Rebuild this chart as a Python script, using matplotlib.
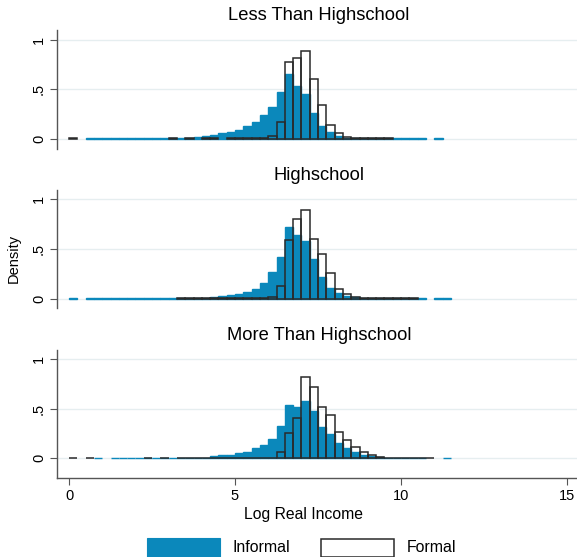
import numpy as np
import matplotlib
matplotlib.use("Agg")
import matplotlib.pyplot as plt
from matplotlib.patches import Rectangle

plt.rcParams['font.family'] = ['Liberation Sans', 'DejaVu Sans']

# ---- data (density per 0.25-wide bin of log real income, bins start at 0.0) ----
bin_width = 0.25
bin_left = [0.25 * i for i in range(46)]

panel_titles = ["Less Than Highschool", "Highschool", "More Than Highschool"]

informal_lths = [0, 0, 0.006, 0.006, 0.006, 0.006, 0.006, 0.006, 0.006, 0.006,
                 0.006, 0.006, 0.007, 0.008, 0.011, 0.018, 0.028, 0.045, 0.058, 0.075,
                 0.09, 0.13, 0.17, 0.24, 0.32, 0.47, 0.65, 0.53, 0.45, 0.26,
                 0.13, 0.07, 0.03, 0.013, 0.008, 0.006, 0.006, 0.006, 0.006, 0.006,
                 0.006, 0.006, 0.006, 0, 0.006, 0]
formal_lths = [0.006, 0, 0, 0, 0, 0, 0, 0, 0, 0,
               0, 0, 0.006, 0, 0.006, 0, 0.006, 0.006, 0, 0.006,
               0.006, 0.006, 0.007, 0.010, 0.03, 0.17, 0.77, 0.81, 0.89, 0.60,
               0.34, 0.14, 0.06, 0.02, 0.01, 0.006, 0.006, 0.006, 0.006, 0,
               0, 0, 0, 0, 0, 0]

informal_hs = [0.006, 0, 0.006, 0.006, 0.006, 0.006, 0.006, 0.006, 0.006, 0.006,
               0.006, 0.006, 0.006, 0.006, 0.006, 0.007, 0.010, 0.02, 0.028, 0.038,
               0.05, 0.07, 0.10, 0.16, 0.27, 0.42, 0.72, 0.64, 0.58, 0.40,
               0.22, 0.11, 0.06, 0.03, 0.013, 0.008, 0.006, 0.006, 0.006, 0.006,
               0.006, 0.006, 0.006, 0, 0.006, 0.006]
formal_hs = [0, 0, 0, 0, 0, 0, 0, 0, 0, 0,
             0, 0, 0, 0.006, 0.006, 0.006, 0.006, 0.006, 0.006, 0.006,
             0.006, 0.007, 0.008, 0.010, 0.015, 0.13, 0.59, 0.80, 0.89, 0.60,
             0.45, 0.26, 0.10, 0.05, 0.015, 0.008, 0.006, 0.006, 0.006, 0.006,
             0.006, 0.006, 0, 0, 0, 0]

informal_mths = [0, 0, 0, 0.006, 0, 0.006, 0.006, 0.006, 0.006, 0.006,
                 0.006, 0.006, 0.006, 0.006, 0.006, 0.006, 0.008, 0.02, 0.03, 0.03,
                 0.05, 0.06, 0.10, 0.13, 0.19, 0.32, 0.54, 0.52, 0.58, 0.48,
                 0.31, 0.24, 0.15, 0.10, 0.065, 0.035, 0.02, 0.01, 0.007, 0.006,
                 0.006, 0.006, 0.006, 0, 0, 0.006]
formal_mths = [0.006, 0, 0.006, 0, 0, 0, 0, 0, 0, 0.006,
               0, 0.006, 0, 0.006, 0.006, 0.006, 0.006, 0.006, 0.006, 0.006,
               0.006, 0.006, 0.006, 0.006, 0.008, 0.06, 0.25, 0.41, 0.82, 0.72,
               0.52, 0.44, 0.26, 0.18, 0.11, 0.06, 0.03, 0.01, 0.007, 0.006,
               0.006, 0.006, 0.006, 0.006, 0, 0]

informal_series = [informal_lths, informal_hs, informal_mths]
formal_series = [formal_lths, formal_hs, formal_mths]

x_ticks = [0, 5, 10, 15]
y_ticks = [0, 0.5, 1]
y_ticklabels = ["0", ".5", "1"]
legend_labels = ["Informal", "Formal"]
x_label = "Log Real Income"
y_label = "Density"

# ---- styling ----
BLUE = "#0b88bb"
EDGE = "#2a2a2a"
AXC = "#555555"
GRID = "#e6eef0"

W, H = 577, 557
fig = plt.figure(figsize=(W / 100, H / 100), dpi=100)
fig.patch.set_facecolor("white")

def fx(px):
    return px / W

def fy(py):
    return 1 - py / H

left_px, right_px = 57, 577
px_per_x = 33.2
x0_px = 69
px_per_y = 99.4
panels = [  # top, bottom, zero-line pixel rows
    (30, 149, 139.0),
    (190, 308, 298.7),
    (350, 478, 458.3),
]
title_y = [16, 176, 335]

xlim = ((left_px - x0_px) / px_per_x, (right_px - x0_px) / px_per_x)
left_arr = np.array(bin_left)

for k, (top, bot, zero) in enumerate(panels):
    ax = fig.add_axes([fx(left_px), fy(bot), fx(right_px - left_px), (bot - top) / H])
    ax.set_xlim(*xlim)
    ax.set_ylim((zero - bot) / px_per_y, (zero - top) / px_per_y)
    for g in y_ticks:
        ax.axhline(g, color=GRID, lw=1.0, zorder=0)
    inf = np.array(informal_series[k], dtype=float)
    frm = np.array(formal_series[k], dtype=float)
    m1 = inf > 0
    ax.bar(left_arr[m1], inf[m1], width=bin_width, align="edge",
           color=BLUE, edgecolor=BLUE, linewidth=1.0, zorder=2)
    m2 = frm > 0
    ax.bar(left_arr[m2], frm[m2], width=bin_width, align="edge",
           fill=False, edgecolor=EDGE, linewidth=1.1, zorder=3)
    for s in ["top", "right"]:
        ax.spines[s].set_visible(False)
    ax.spines["left"].set_color(AXC)
    ax.spines["left"].set_linewidth(1.0)
    ax.set_yticks(y_ticks)
    ax.set_yticklabels(y_ticklabels, rotation=90, va="center", fontsize=10.5)
    ax.tick_params(axis="y", direction="out", length=5, color=AXC, pad=3)
    if k < 2:
        ax.spines["bottom"].set_visible(False)
        ax.set_xticks([])
    else:
        ax.spines["bottom"].set_color(AXC)
        ax.spines["bottom"].set_linewidth(1.0)
        ax.set_xticks(x_ticks)
        ax.set_xticklabels([str(t) for t in x_ticks], fontsize=10.5)
        ax.tick_params(axis="x", direction="out", length=5, color=AXC, pad=3)
    ax.patch.set_alpha(0)
    fig.text(fx(319), fy(title_y[k]), panel_titles[k], ha="center", va="center",
             fontsize=13.2, color="black")

fig.text(fx(303), fy(514), x_label, ha="center", va="center", fontsize=11.3)
fig.text(fx(14), fy(258), y_label, ha="center", va="center", rotation=90, fontsize=10.5)

# legend
fig.patches.append(Rectangle((fx(147), fy(557)), fx(220 - 147), (557 - 538) / H,
                             transform=fig.transFigure, facecolor=BLUE,
                             edgecolor=BLUE, lw=0.8))
fig.patches.append(Rectangle((fx(321), fy(557)), fx(394 - 321), (557 - 539) / H,
                             transform=fig.transFigure, facecolor="white",
                             edgecolor=EDGE, lw=1.1))
fig.text(fx(233), fy(548), legend_labels[0], ha="left", va="center", fontsize=11.4)
fig.text(fx(407), fy(548), legend_labels[1], ha="left", va="center", fontsize=11.4)

fig.savefig("out.png", dpi=100, facecolor="white")
